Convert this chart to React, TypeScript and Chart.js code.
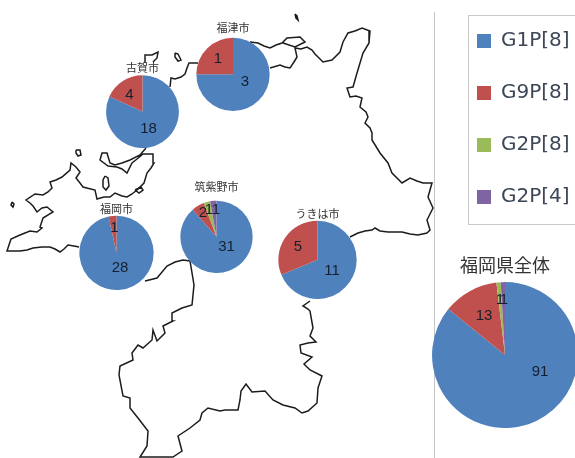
import React, { useEffect, useRef } from "react";
import { Chart, registerables } from "chart.js";

Chart.register(...registerables);

const genotypes = ["G1P[8]", "G9P[8]", "G2P[8]", "G2P[4]"];
const genotypeColors = ["#4F81BD", "#C0504D", "#9BBB59", "#8064A2"];

const fukutsuValues = [3, 1];
const kogaValues = [18, 4];
const fukuokaValues = [28, 1];
const chikushinoValues = [31, 2, 1, 1];
const ukihaValues = [11, 5];
const prefectureValues = [91, 13, 1, 1];

type Pt = [number, number];

const westCoast: Pt[] = [[79,247],[74,246],[68,245],[64,249],[60,252],[55,249],[50,247],[42,247],[33,248],[27,250],[20,251],[7,251],[9,245],[11,239],[20,235],[25,233],[30,231],[37,232],[42,228],[40,227],[43,218],[53,212],[47,207],[42,208],[37,212],[33,206],[30,203],[26,200],[35,194],[43,195],[48,192],[52,188],[50,182],[56,180],[62,177],[70,170],[71,163],[76,167],[80,172],[76,178],[80,183],[83,187],[95,190],[97,199],[104,197],[110,197],[115,193],[122,196],[127,197],[132,194],[137,190],[144,183],[147,173],[151,168],[154,163],[153,154],[143,154],[137,159],[132,163],[127,173],[122,169],[117,167],[108,166],[100,160],[102,153],[107,153],[110,163],[115,165],[122,163],[130,160],[140,155],[146,148]];
const kogaToFukutsu: Pt[] = [[170,87],[171,78],[175,79],[181,77],[185,74],[187,68],[189,63],[198,63]];
const fukutsuToBayNorth: Pt[] = [[250,42],[258,43],[264,46],[270,48],[276,45],[282,43],[287,38],[300,37],[305,42],[295,47],[283,43]];
const bayToEastCoast: Pt[] = [[270,68],[280,65],[285,67],[290,68],[294,62],[297,57],[295,48],[301,49],[307,47],[312,50],[315,54],[318,57],[323,62],[332,60],[340,52],[343,42],[348,33],[355,31],[362,28],[370,31],[369,43],[363,53],[360,63],[357,73],[353,87],[347,88],[350,97],[356,96],[362,98],[360,107],[366,112],[368,117],[365,123],[370,128],[372,133],[372,140],[380,153],[388,163],[392,173],[402,183],[410,178],[417,181],[423,183],[432,183],[428,197],[433,208],[427,220],[430,230],[427,233],[418,235],[410,234],[402,232],[388,232],[380,231],[375,228],[372,230],[365,231],[358,233],[350,237]];
const southBorder: Pt[] = [[310,301],[303,306],[308,309],[310,311],[313,328],[310,336],[316,342],[308,343],[300,345],[301,353],[312,357],[304,364],[310,370],[322,376],[318,388],[317,403],[308,411],[302,413],[295,408],[283,405],[273,400],[265,391],[252,392],[246,384],[241,391],[240,400],[238,410],[225,410],[220,411],[208,408],[202,413],[200,420],[190,428],[178,436],[182,451],[173,457],[140,457],[147,446],[148,431],[138,418],[130,408],[130,398],[123,396],[119,375],[120,366],[133,360],[132,353],[138,345],[143,348],[152,340],[153,330],[157,341],[165,333],[163,326],[173,321],[172,313],[182,308],[192,305],[194,285],[190,261],[183,260],[175,262],[167,266],[157,278],[145,281]];
const islandAinoshima: Pt[] = [[76,150],[80,150],[81,155],[78,156],[76,153],[76,150]];
const islandNokonoshima: Pt[] = [[105,176],[108,178],[109,186],[106,190],[103,187],[103,180],[105,176]];
const islandGenkai: Pt[] = [[12,202],[14,204],[13,207],[11,205],[12,202]];
const islandKoga: Pt[] = [[145,63],[145,55],[152,55],[158,52],[157,58],[153,62]];
const islandOshima: Pt[] = [[175,53],[178,54],[181,60],[178,61],[175,57],[175,53]];
const islandNorth: Pt[] = [[295,14],[297,16],[298,20],[296,18],[295,14]];
const hakataLoop: Pt[] = [[135,190],[141,187],[143,190],[139,193],[135,190]];
const separatorLine: Pt[] = [[434.5,12],[434.5,458]];

const mapPaths = [westCoast, kogaToFukutsu, fukutsuToBayNorth, bayToEastCoast, southBorder, islandAinoshima, islandNokonoshima, islandGenkai, islandKoga, islandOshima, islandNorth, hakataLoop];

// label offsets from each pie's centre, in pixels, one per slice
const pies = [
  { title: "福津市", values: fukutsuValues, cx: 233, cy: 75, r: 37, gap: 3.5, titleSize: 11, titlePad: 2, shift: -1, offsets: [[12,8],[-15,-15]] },
  { title: "古賀市", values: kogaValues, cx: 142, cy: 112, r: 36.5, gap: 1, titleSize: 11, titlePad: 1, shift: 0, offsets: [[6,17],[-13,-17]] },
  { title: "福岡市", values: fukuokaValues, cx: 116.5, cy: 253.5, r: 37.5, gap: 0.5, titleSize: 11, titlePad: 1, shift: 0, offsets: [[3.5,15.5],[-2,-25]] },
  { title: "筑紫野市", values: chikushinoValues, cx: 216.5, cy: 237.5, r: 36.5, gap: 7.5, titleSize: 11, titlePad: 5, shift: 1.5, offsets: [[10,10],[-13.5,-23.5],[-7.5,-26.5],[-0.5,-26.5]] },
  { title: "うきは市", values: ukihaValues, cx: 317.5, cy: 260.5, r: 39.5, gap: 0.5, titleSize: 11, titlePad: 1, shift: -2, offsets: [[14.5,11.5],[-19.5,-12.5]] },
  { title: "福岡県全体", values: prefectureValues, cx: 505, cy: 355.5, r: 73, gap: 6.5, titleSize: 18, titlePad: 8, shift: 0, offsets: [[35,16.5],[-21,-39.5],[-5,-55.5],[-1,-55.5]] },
];

type PieSpec = (typeof pies)[number];

function Pie({ spec }: { spec: PieSpec }) {
  const ref = useRef<HTMLCanvasElement>(null);
  const top = spec.titleSize * 1.2 + spec.gap + spec.titlePad;
  useEffect(() => {
    const labelPlugin = {
      id: "sliceLabels",
      afterDatasetsDraw(chart: any) {
        const { ctx, chartArea } = chart;
        const cx = (chartArea.left + chartArea.right) / 2;
        const cy = (chartArea.top + chartArea.bottom) / 2;
        ctx.save();
        ctx.font = "15px 'Liberation Sans', Arial, sans-serif";
        ctx.fillStyle = "#14202e";
        ctx.textAlign = "center";
        ctx.textBaseline = "middle";
        spec.values.forEach((v, i) => {
          ctx.fillText(String(v), cx + spec.offsets[i][0], cy + spec.offsets[i][1]);
        });
        ctx.restore();
      },
    };
    const chart = new Chart(ref.current!, {
      type: "pie",
      data: {
        labels: genotypes.slice(0, spec.values.length),
        datasets: [{ data: spec.values, backgroundColor: genotypeColors, borderWidth: 0 }],
      },
      options: {
        responsive: false,
        animation: false,
        devicePixelRatio: 1,
        layout: { padding: 0 },
        plugins: {
          legend: { display: false },
          tooltip: { enabled: false },
          title: {
            display: true,
            text: spec.title,
            color: "#333333",
            font: { family: "'Noto Sans CJK JP'", size: spec.titleSize, weight: "normal", lineHeight: 1.2 },
            padding: { top: spec.titlePad, bottom: spec.gap },
          },
        },
      },
      plugins: [labelPlugin],
    } as any);
    return () => chart.destroy();
  }, []);
  return (
    <canvas
      ref={ref}
      width={spec.r * 2 + 20}
      height={spec.r * 2 + top}
      style={{ position: "absolute", left: spec.cx - spec.r - 10, top: spec.cy - spec.r - top }}
    />
  );
}

function MapLayer() {
  const ref = useRef<HTMLCanvasElement>(null);
  useEffect(() => {
    const chart = new Chart(ref.current!, {
      type: "scatter",
      data: {
        datasets: [
          ...mapPaths.map((p) => ({
            data: p.map(([x, y]) => ({ x, y })),
            showLine: true,
            borderColor: "#1c1c1c",
            borderWidth: 1.5,
            pointRadius: 0,
            tension: 0,
          })),
          {
            data: separatorLine.map(([x, y]) => ({ x, y })),
            showLine: true,
            borderColor: "#c4c4c4",
            borderWidth: 1,
            pointRadius: 0,
          },
        ],
      },
      options: {
        responsive: false,
        animation: false,
        devicePixelRatio: 1,
        layout: { padding: 0 },
        scales: {
          x: { type: "linear", min: 0, max: 575, display: false },
          y: { type: "linear", min: 0, max: 458, reverse: true, display: false },
        },
        plugins: { legend: { display: false }, tooltip: { enabled: false } },
      },
    } as any);
    return () => chart.destroy();
  }, []);
  return <canvas ref={ref} width={575} height={458} style={{ position: "absolute", left: 0, top: 0 }} />;
}

function LegendLayer() {
  const ref = useRef<HTMLCanvasElement>(null);
  useEffect(() => {
    const chart = new Chart(ref.current!, {
      type: "scatter",
      data: {
        datasets: genotypes.map((g, i) => ({
          label: g,
          data: [],
          backgroundColor: genotypeColors[i],
          borderColor: genotypeColors[i],
          borderWidth: 0,
        })),
      },
      options: {
        responsive: false,
        animation: false,
        devicePixelRatio: 1,
        scales: { x: { display: false }, y: { display: false } },
        plugins: {
          tooltip: { enabled: false },
          legend: {
            position: "left",
            align: "start",
            maxWidth: 300,
            labels: {
              boxWidth: 14,
              boxHeight: 14,
              padding: 32,
              color: "#3c4757",
              font: { family: "'DejaVu Sans'", size: 20 },
            },
          },
        },
      },
    } as any);
    return () => chart.destroy();
  }, []);
  return <canvas ref={ref} width={260} height={300} style={{ position: "absolute", left: 445, top: -1 }} />;
}

export default function App() {
  return (
    <div
      style={{
        position: "fixed",
        left: 0,
        top: 0,
        width: 575,
        height: 458,
        overflow: "hidden",
        background: "#fff",
        filter: "blur(0.45px)",
      }}
    >
      <MapLayer />
      <div
        style={{
          position: "absolute",
          left: 468,
          top: 15,
          width: 120,
          height: 208,
          border: "1px solid #c9c9c9",
          boxSizing: "content-box",
        }}
      />
      <LegendLayer />
      {pies.map((p) => (
        <Pie key={p.title} spec={p} />
      ))}
    </div>
  );
}
